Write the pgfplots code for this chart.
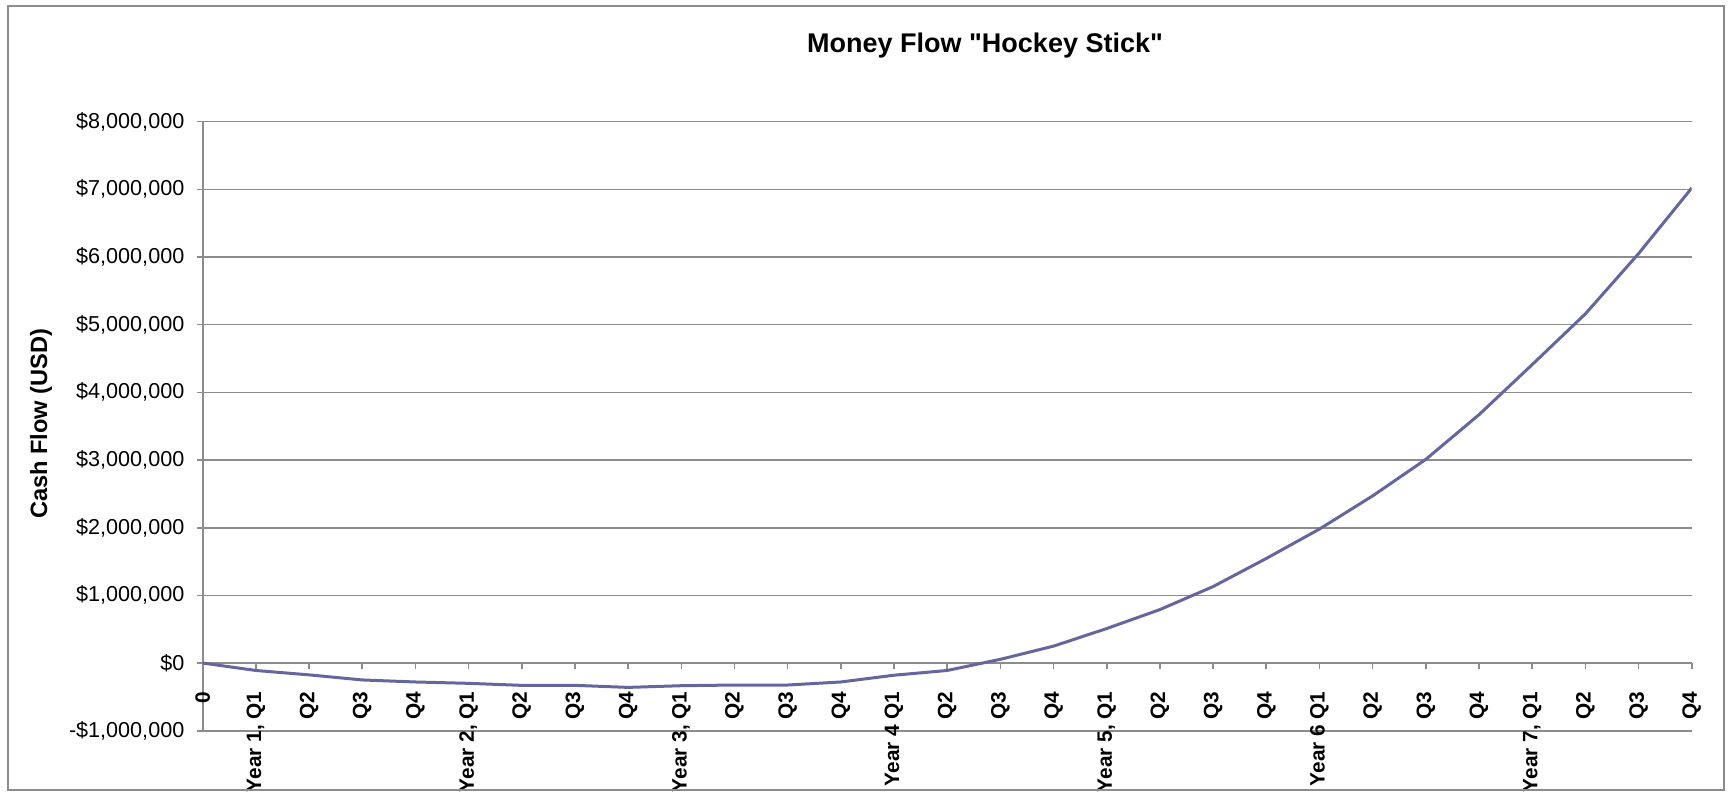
\documentclass[border=0pt]{standalone}
\usepackage{fontspec}
\setmainfont{Liberation Sans}[Ligatures=TeXOff]
\usepackage{pgfplots}
\pgfplotsset{compat=1.18}
\definecolor{linec}{RGB}{102,102,158}
\definecolor{gridc}{RGB}{140,140,140}
\begin{document}
\begin{tikzpicture}
\begin{axis}[
  at={(101.35pt,31.15pt)}, anchor=south west,
  scale only axis, width=744.5pt, height=304.5pt,
  xmin=0, xmax=28, ymin=-1000000, ymax=8000000,
  axis x line=middle, axis y line=left,
  hide obscured x ticks=false, hide obscured y ticks=false,
  axis line style={gridc, line width=0.8pt, -},
  ytick={-1000000,0,1000000,2000000,3000000,4000000,5000000,6000000,7000000,8000000},
  yticklabels={{-\$1,000,000},{\$0},{\$1,000,000},{\$2,000,000},{\$3,000,000},{\$4,000,000},{\$5,000,000},{\$6,000,000},{\$7,000,000},{\$8,000,000}},
  scaled y ticks=false,
  ymajorgrids, grid style={gridc, line width=0.8pt},
  xtick={0,1,2,3,4,5,6,7,8,9,10,11,12,13,14,15,16,17,18,19,20,21,22,23,24,25,26,27,28},
  xticklabels={0,{Year 1, Q1},Q2,Q3,Q4,{Year 2, Q1},Q2,Q3,Q4,{Year 3, Q1},Q2,Q3,Q4,{Year 4 Q1},Q2,Q3,Q4,{Year 5, Q1},Q2,Q3,Q4,{Year 6 Q1},Q2,Q3,Q4,{Year 7, Q1},Q2,Q3,Q4},
  tick align=outside,
  major tick length=3pt,
  tick style={gridc, line width=0.8pt},
  xticklabel style={rotate=90, anchor=east, font=\bfseries\fontsize{10.4}{12}\selectfont, inner sep=0pt, xshift=-11pt},
  yticklabel style={font=\fontsize{10.8}{12}\selectfont, inner sep=0pt, xshift=-6pt},
  title={Money Flow "Hockey Stick"},
  title style={at={(axis description cs:0.5254,1.105)}, anchor=center, font=\bfseries\fontsize{13.5}{16}\selectfont},
  ylabel={Cash Flow (USD)},
  ylabel style={at={(axis description cs:-0.1086,0.504)}, anchor=center, font=\bfseries\fontsize{11.8}{14}\selectfont},
]
\addplot[linec, line width=1.5pt, line join=round, no marks] coordinates {
(0,0) (1,-110000) (2,-175000) (3,-250000) (4,-280000) (5,-300000) (6,-330000)
(7,-330000) (8,-360000) (9,-335000) (10,-325000) (11,-325000) (12,-280000)
(13,-180000) (14,-110000) (15,55000) (16,250000) (17,510000) (18,790000)
(19,1130000) (20,1545000) (21,1980000) (22,2470000) (23,3010000) (24,3670000)
(25,4410000) (26,5160000) (27,6050000) (28,7020000)
};
\end{axis}
\draw[gridc, line width=1pt] (4pt,1.5pt) rectangle (862pt,393.5pt);
\pgfresetboundingbox
\path[use as bounding box] (0pt,0pt) rectangle (864pt,396.5pt);
\end{tikzpicture}
\end{document}
